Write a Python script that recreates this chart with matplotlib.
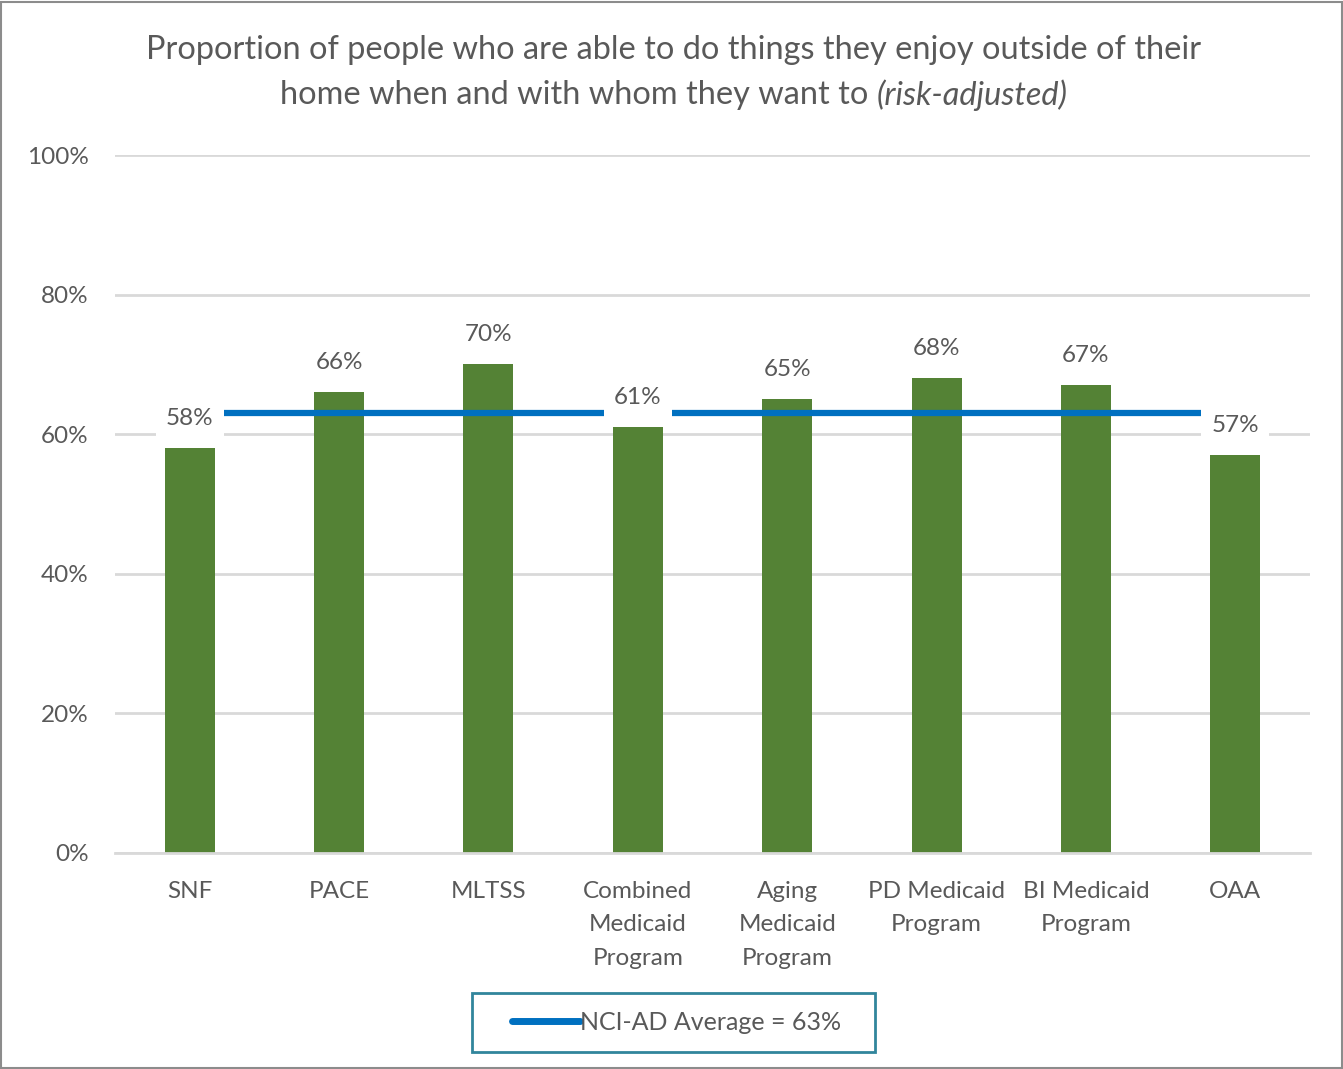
import matplotlib
matplotlib.use("Agg")
import matplotlib.pyplot as plt
from matplotlib.lines import Line2D
from matplotlib.patches import Rectangle

categories = ["SNF", "PACE", "MLTSS", "Combined\nMedicaid\nProgram", "Aging\nMedicaid\nProgram",
              "PD Medicaid\nProgram", "BI Medicaid\nProgram", "OAA"]
values = [58, 66, 70, 61, 65, 68, 67, 57]
average = 63
yticks = [0, 20, 40, 60, 80, 100]
ytick_labels = ["0%", "20%", "40%", "60%", "80%", "100%"]
title_line1 = "Proportion of people who are able to do things they enjoy outside of their"
title_line2 = "home when and with whom they want to "
title_italic = "(risk-adjusted)"
legend_label = "NCI-AD Average = 63%"

plt.rcParams['font.family'] = ['Lato', 'DejaVu Sans']
TXT = "#595959"
GRID = "#D9D9D9"
GREEN = "#548235"
BLUE = "#0070C0"
FS = 17.5
TFS = 23.4

fig = plt.figure(figsize=(13.43, 10.69), dpi=100)
fig.patches.append(Rectangle((0.001, 0.001), 0.998, 0.997, transform=fig.transFigure,
                             fill=False, edgecolor="#8C8C8C", linewidth=1.5))
ax = fig.add_axes([0.0856, 0.2021, 0.8898, 0.6529])
x = list(range(len(categories)))
ax.bar(x, values, width=0.335, color=GREEN, zorder=2)
ax.plot([x[0], x[-1]], [average, average], color=BLUE, linewidth=4.5, zorder=3,
        solid_capstyle="butt")
for xi, v in zip(x, values):
    ax.annotate(f"{v}%", (xi, v), xytext=(0, 21.5), textcoords="offset points",
                ha="center", va="center", fontsize=FS, color=TXT, zorder=5,
                bbox=dict(boxstyle="square,pad=0.42", facecolor="white", edgecolor="none"))
ax.set_xlim(-0.5, len(categories) - 0.5)
ax.set_ylim(0, 100)
ax.set_yticks(yticks)
ax.set_yticklabels(ytick_labels, fontsize=FS, color=TXT)
ax.set_xticks(x)
ax.set_xticklabels(categories, fontsize=FS, color=TXT, linespacing=1.75, va="top")
ax.tick_params(axis="both", length=0)
ax.tick_params(axis="y", pad=19)
ax.tick_params(axis="x", pad=20)
ax.grid(axis="y", color=GRID, linewidth=2, zorder=0)
for s in ["top", "right", "left"]:
    ax.spines[s].set_visible(False)
ax.spines["bottom"].set_color(GRID)
ax.spines["bottom"].set_linewidth(2)

# title
fig.text(0.5015, 0.953, title_line1, ha="center", va="center", fontsize=TFS, color=TXT)
fig.canvas.draw()
r = fig.canvas.get_renderer()
tA = fig.text(0.5, 0.911, title_line2, ha="left", va="center", fontsize=TFS, color=TXT)
tB = fig.text(0.5, 0.911, title_italic, ha="left", va="center", fontsize=TFS, color=TXT,
              style="italic")
wA = tA.get_window_extent(r).width
wB = tB.get_window_extent(r).width
W = fig.bbox.width
H = fig.bbox.height
start = 0.5015 - (wA + wB) / 2 / W
tA.set_x(start)
tB.set_x(start + wA / W)

handle = Line2D([0], [0], color=BLUE, linewidth=5, solid_capstyle="round")
leg = fig.legend([handle], [legend_label], loc="center", bbox_to_anchor=(0.5037, 0.0435),
                 frameon=False, fontsize=18, handlelength=2.7, handletextpad=0.0,
                 borderpad=0, borderaxespad=0, labelcolor=TXT)
fig.canvas.draw()
lb = leg.get_window_extent(r)
pad_l, pad_r = 40, 34
cy = lb.y0 + lb.height / 2
box_h = 59
fig.patches.append(Rectangle(((lb.x0 - pad_l) / W, (cy - box_h / 2) / H),
                             (lb.width + pad_l + pad_r) / W, box_h / H,
                             transform=fig.transFigure, fill=False,
                             edgecolor="#31859C", linewidth=2))

fig.savefig("out.png", dpi=100)
